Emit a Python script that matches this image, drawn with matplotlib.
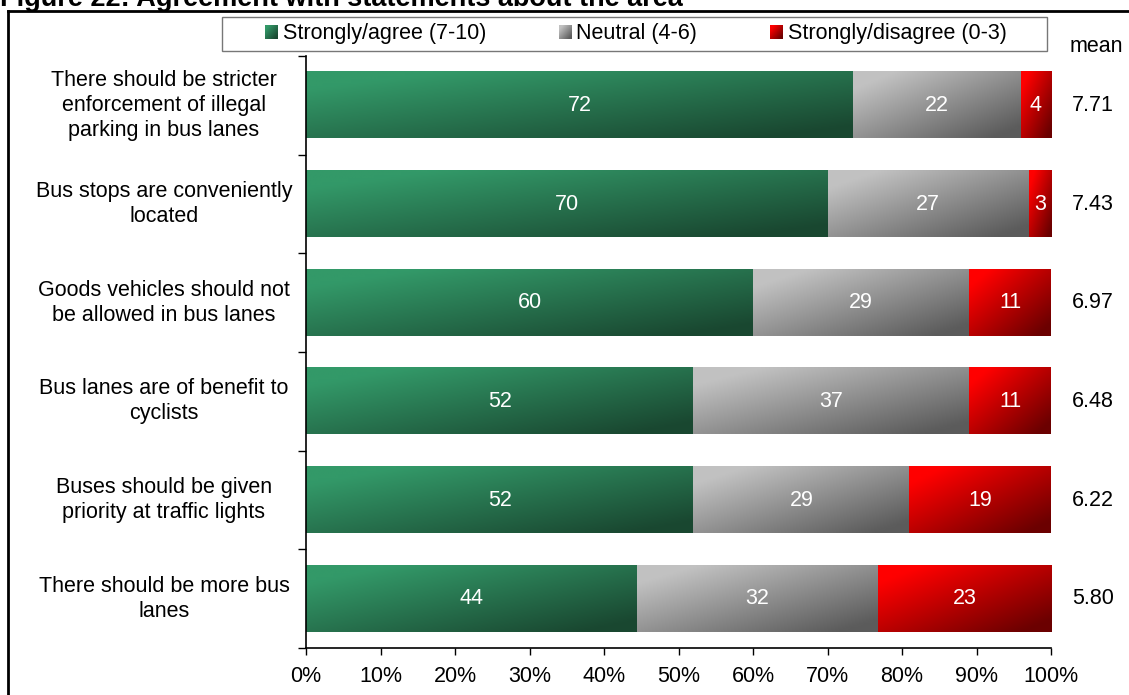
import numpy as np
import matplotlib
matplotlib.use("Agg")
import matplotlib.pyplot as plt
from matplotlib.patches import Rectangle
from matplotlib.lines import Line2D
from matplotlib.legend_handler import HandlerBase
from matplotlib.image import BboxImage
import matplotlib.transforms as mtransforms

plt.rcParams['font.family'] = ['Liberation Sans', 'DejaVu Sans']

# Datos
statements = [
    "There should be stricter\nenforcement of illegal\nparking in bus lanes",
    "Bus stops are conveniently\nlocated",
    "Goods vehicles should not\nbe allowed in bus lanes",
    "Bus lanes are of benefit to\ncyclists",
    "Buses should be given\npriority at traffic lights",
    "There should be more bus\nlanes",
]
agree = [72, 70, 60, 52, 52, 44]
neutral = [22, 27, 29, 37, 29, 32]
disagree = [4, 3, 11, 11, 19, 23]
means = [7.71, 7.43, 6.97, 6.48, 6.22, 5.80]
series_names = ["Strongly/agree (7-10)", "Neutral (4-6)", "Strongly/disagree (0-3)"]

# Colores (claro -> oscuro) para los degradados
grad = [
    ((0.20, 0.60, 0.41), (0.10, 0.28, 0.19)),
    ((0.76, 0.76, 0.76), (0.36, 0.36, 0.36)),
    ((1.00, 0.00, 0.00), (0.42, 0.00, 0.00)),
]

W, H = 1129, 695
fig = plt.figure(figsize=(W / 100, H / 100), dpi=100)
ax = fig.add_axes([306 / W, 1 - 648 / H, (1051 - 306) / W, (648 - 56) / H])

n = len(statements)
ypos = np.arange(n)[::-1]
bar_h = 0.67


def gradient_img(c0, c1, nx=80, ny=20):
    u = np.linspace(0, 1, nx)[None, :]
    v = np.linspace(0, 1, ny)[:, None]
    t = np.clip(0.65 * u + 0.6 * v - 0.15, 0, 1)
    c0 = np.array(c0)
    c1 = np.array(c1)
    return c0[None, None, :] * (1 - t[..., None]) + c1[None, None, :] * t[..., None]


# Cuadrado con degradado para la leyenda
class GradientHandler(HandlerBase):
    def __init__(self, k):
        super().__init__()
        self.k = k

    def create_artists(self, legend, orig_handle, xdescent, ydescent, width, height,
                       fontsize, trans):
        bb = mtransforms.Bbox.from_bounds(-xdescent, -ydescent, width, height)
        tbb = mtransforms.TransformedBbox(bb, trans)
        im = BboxImage(tbb, interpolation='bilinear')
        im.set_data(gradient_img(*grad[self.k], nx=10, ny=10))
        return [im]


for i in range(n):
    vals = [agree[i], neutral[i], disagree[i]]
    total = sum(vals)
    left = 0
    for k, v in enumerate(vals):
        w = v / total * 100
        y = ypos[i]
        img = gradient_img(*grad[k])
        ax.imshow(img, extent=(left, left + w, y - bar_h / 2, y + bar_h / 2),
                  origin='upper', aspect='auto', interpolation='bilinear', zorder=2)
        ax.text(left + w / 2, y, str(v), ha='center', va='center',
                color='white', fontsize=15.5, zorder=3)
        left += w

ax.set_xlim(0, 100)
ax.set_ylim(-0.5, n - 0.5)

# Ejes
ax.set_xticks(np.arange(0, 101, 10))
ax.set_xticklabels([f"{t}%" for t in range(0, 101, 10)], fontsize=15.5)
ax.tick_params(axis='x', direction='out', length=5, width=1, pad=8, colors='black')
ax.set_yticks(np.arange(-0.5, n, 1.0))
ax.set_yticklabels([])
ax.tick_params(axis='y', direction='out', length=6, width=1)
for s in ['top', 'right']:
    ax.spines[s].set_visible(False)
ax.spines['left'].set_linewidth(1.2)
ax.spines['bottom'].set_linewidth(1.2)

# Etiquetas de categorias
tr = mtransforms.blended_transform_factory(fig.transFigure, ax.transData)
for i, s in enumerate(statements):
    ax.text(164 / W, ypos[i], s, transform=tr, ha='center', va='center',
            multialignment='center', fontsize=15.5, linespacing=1.27)

# Medias
for i, m in enumerate(means):
    ax.text(1093 / W, ypos[i], f"{m:.2f}", transform=tr, ha='center', va='center',
            fontsize=15.5)
fig.text(1096 / W, 1 - 47 / H, "mean", ha='center', va='center', fontsize=15.5)

# Leyenda
fig.patches.append(Rectangle((222 / W, 1 - 51 / H), (1047 - 222) / W, 34 / H,
                             transform=fig.transFigure, fill=False,
                             edgecolor='#777777', linewidth=1))
handles = [Rectangle((0, 0), 1, 1) for k in range(3)]
fig.legend(handles, series_names, loc='center', bbox_to_anchor=(636 / W, 1 - 34 / H),
           ncol=3, frameon=False, fontsize=15.5, handlelength=0.6, handleheight=0.6,
           handletextpad=0.2, columnspacing=3.4,
           handler_map={handles[k]: GradientHandler(k) for k in range(3)})

# Titulo (cortado en la parte superior)
fig.text(0.0, 1 - 6 / H, "Figure 22: Agreement with statements about the area",
         ha='left', va='baseline', fontsize=19.5, fontweight='bold')

# Marco exterior
fig.lines.append(Line2D([8 / W, 8 / W], [0, 1 - 11 / H], transform=fig.transFigure,
                        color='black', linewidth=2))
fig.lines.append(Line2D([8 / W, 1], [1 - 11 / H, 1 - 11 / H], transform=fig.transFigure,
                        color='black', linewidth=2))

fig.savefig("out.png", dpi=100)
